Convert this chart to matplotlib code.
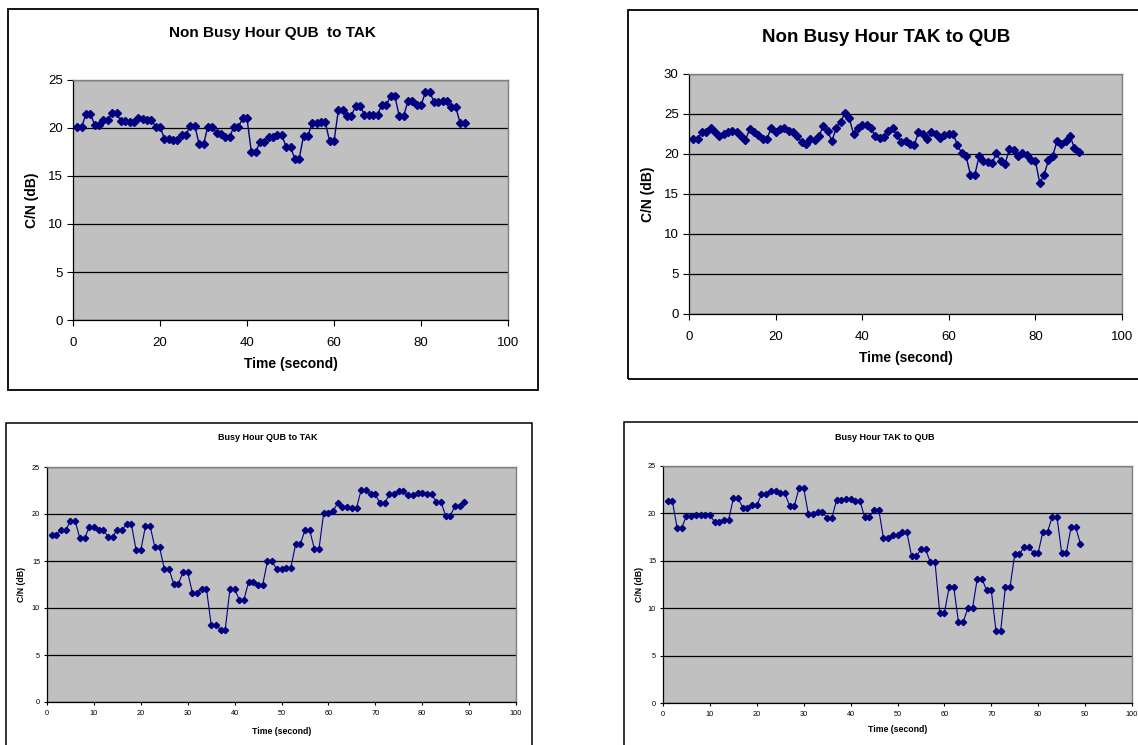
import matplotlib
matplotlib.use('Agg')
import matplotlib.pyplot as plt
from matplotlib.patches import Rectangle

plt.rcParams['font.family'] = ['Liberation Sans', 'DejaVu Sans']

W = 1138.0
H = 745.0

# ---- data ----
t_nb_qt = list(range(1, 91))
cn_nb_qt = [20.1, 20.1, 21.5, 21.5, 20.3, 20.3, 20.8, 20.8, 21.6, 21.6,
            20.7, 20.7, 20.6, 20.6, 21.0, 20.95, 20.85, 20.85, 20.15, 20.15,
            18.9, 18.9, 18.8, 18.8, 19.3, 19.3, 20.25, 20.25, 18.3, 18.3,
            20.15, 20.15, 19.5, 19.4, 19.1, 19.1, 20.1, 20.1, 21.0, 21.0,
            17.5, 17.5, 18.55, 18.55, 19.1, 19.1, 19.3, 19.3, 18.0, 18.0,
            16.8, 16.8, 19.2, 19.2, 20.5, 20.5, 20.6, 20.6, 18.6, 18.6,
            21.85, 21.85, 21.3, 21.3, 22.3, 22.3, 21.4, 21.4, 21.4, 21.4,
            22.4, 22.4, 23.3, 23.3, 21.25, 21.25, 22.8, 22.8, 22.35, 22.35,
            23.7, 23.7, 22.75, 22.75, 22.85, 22.85, 22.15, 22.15, 20.5, 20.5]

t_nb_tq = list(range(1, 91))
cn_nb_tq = [21.9, 21.9, 22.76, 22.8, 23.3, 22.8, 22.2, 22.5, 22.7, 22.9,
            22.8, 22.2, 21.7, 23.1, 22.8, 22.35, 21.9, 21.9, 23.3, 22.8,
            23.1, 23.3, 22.9, 22.8, 22.2, 21.5, 21.3, 21.9, 21.7, 22.2,
            23.5, 22.9, 21.6, 23.3, 24.0, 25.1, 24.5, 22.5, 23.3, 23.6,
            23.6, 23.2, 22.2, 22.0, 22.1, 22.9, 23.2, 22.4, 21.5, 21.6,
            21.3, 21.1, 22.7, 22.55, 21.9, 22.8, 22.55, 22.0, 22.4, 22.55,
            22.55, 21.1, 20.1, 19.7, 17.4, 17.4, 19.7, 19.1, 19.0, 18.9,
            20.1, 19.1, 18.8, 20.6, 20.5, 19.7, 20.1, 19.85, 19.3, 19.1,
            16.4, 17.4, 19.2, 19.8, 21.6, 21.2, 21.6, 22.3, 20.7, 20.3]

t_b_qt = list(range(1, 90))
cn_b_qt = [17.76, 17.76, 18.25, 18.25, 19.3, 19.3, 17.4, 17.4, 18.6, 18.6,
           18.3, 18.3, 17.6, 17.6, 18.35, 18.35, 18.9, 18.9, 16.15, 16.15,
           18.7, 18.7, 16.45, 16.45, 14.2, 14.2, 12.57, 12.57, 13.8, 13.8,
           11.6, 11.6, 12.07, 12.07, 8.2, 8.2, 7.7, 7.7, 12.0, 12.0,
           10.9, 10.9, 12.8, 12.8, 12.5, 12.5, 14.95, 14.95, 14.1, 14.1,
           14.28, 14.28, 16.76, 16.76, 18.3, 18.3, 16.3, 16.3, 20.13, 20.13,
           20.3, 21.2, 20.7, 20.7, 20.65, 20.65, 22.6, 22.6, 22.1, 22.1,
           21.13, 21.13, 22.1, 22.1, 22.4, 22.4, 22.0, 22.0, 22.2, 22.2,
           22.1, 22.1, 21.3, 21.3, 19.8, 19.8, 20.9, 20.9, 21.3]

t_b_tq = list(range(1, 90))
cn_b_tq = [21.3, 21.3, 18.5, 18.5, 19.75, 19.75, 19.86, 19.86, 19.8, 19.8,
           19.1, 19.1, 19.3, 19.3, 21.6, 21.6, 20.6, 20.6, 20.84, 20.84,
           22.0, 22.0, 22.4, 22.4, 22.1, 22.1, 20.8, 20.8, 22.66, 22.66,
           19.9, 19.9, 20.14, 20.14, 19.5, 19.5, 21.4, 21.4, 21.47, 21.47,
           21.3, 21.3, 19.6, 19.6, 20.4, 20.4, 17.4, 17.4, 17.76, 17.76,
           18.0, 18.0, 15.5, 15.5, 16.2, 16.2, 14.86, 14.86, 9.5, 9.5,
           12.2, 12.2, 8.53, 8.53, 10.0, 10.0, 13.1, 13.1, 11.9, 11.9,
           7.6, 7.6, 12.24, 12.24, 15.7, 15.7, 16.47, 16.47, 15.84, 15.84,
           18.08, 18.08, 19.65, 19.65, 15.84, 15.84, 18.53, 18.53, 16.8]

titles = ['Non Busy Hour QUB  to TAK', 'Non Busy Hour TAK to QUB',
          'Busy Hour QUB to TAK', 'Busy Hour TAK to QUB']
xlab = 'Time (second)'
ylab = 'C/N (dB)'


def fx(x):
    return x / W


def fy(y):
    return 1 - y / H


fig = plt.figure(figsize=(W / 100, H / 100), dpi=100)

# one dict per panel: plot box, frame box, text spots (all in pixels)
panels = [
    dict(t=t_nb_qt, y=cn_nb_qt, plot=(73, 80, 508, 320), frame=(8, 9, 538, 390),
         ymax=25, xstep=20, title_y=33, title_x=272, title_fs=11, xl_y=364, yl_x=32,
         lab_fs=10, tick_fs=9.5, ms=4.5, lw=1.0, tlen=4, xpad=8, ypad=3.5, flw=1.3),
    dict(t=t_nb_tq, y=cn_nb_tq, plot=(689, 74, 1122, 314), frame=(628, 10, 1146, 379),
         ymax=30, xstep=20, title_y=37, title_x=886, title_fs=13.5, xl_y=358, yl_x=648,
         lab_fs=10, tick_fs=9.5, ms=4.5, lw=1.0, tlen=4, xpad=8, ypad=3.5, flw=1.3),
    dict(t=t_b_qt, y=cn_b_qt, plot=(47, 467, 516, 702), frame=(6, 423, 532, 750),
         ymax=25, xstep=10, title_y=437, title_x=268, title_fs=6.5, xl_y=731, yl_x=22,
         lab_fs=6.3, tick_fs=5.3, ms=3.2, lw=0.8, tlen=2.5, xpad=3.5, ypad=2.5, flw=1.1),
    dict(t=t_b_tq, y=cn_b_tq, plot=(663, 466, 1132, 703), frame=(624, 422, 1146, 750),
         ymax=25, xstep=10, title_y=437, title_x=885, title_fs=6.5, xl_y=730, yl_x=639,
         lab_fs=6.3, tick_fs=5.3, ms=3.2, lw=0.8, tlen=2.5, xpad=3.5, ypad=2.5, flw=1.1),
]

for p, title in zip(panels, titles):
    x0, y0, x1, y1 = p['plot']
    ax = fig.add_axes([fx(x0), fy(y1), (x1 - x0) / W, (y1 - y0) / H])
    ax.set_facecolor('#C0C0C0')
    ax.plot(p['t'], p['y'], color='#000080', lw=p['lw'], marker='D',
            markersize=p['ms'], markerfacecolor='#000080', markeredgecolor='#000080')
    ax.set_xlim(0, 100)
    ax.set_ylim(0, p['ymax'])
    ax.set_xticks(range(0, 101, p['xstep']))
    ax.set_yticks(range(0, p['ymax'] + 1, 5))
    ax.yaxis.grid(True, color='black', lw=0.9)
    ax.set_axisbelow(True)
    for s in ['top', 'right']:
        ax.spines[s].set_color('#808080')
        ax.spines[s].set_linewidth(1.0)
    for s in ['left', 'bottom']:
        ax.spines[s].set_color('black')
        ax.spines[s].set_linewidth(0.9)
    ax.tick_params(axis='both', direction='out', length=p['tlen'], width=0.8,
                   labelsize=p['tick_fs'], colors='black')
    ax.tick_params(axis='x', pad=p['xpad'])
    ax.tick_params(axis='y', pad=p['ypad'])

    fig.text(fx(p['title_x']), fy(p['title_y']), title, ha='center', va='center',
             fontsize=p['title_fs'], fontweight='bold')
    fig.text(fx((x0 + x1) / 2), fy(p['xl_y']), xlab, ha='center', va='center',
             fontsize=p['lab_fs'], fontweight='bold')
    fig.text(fx(p['yl_x']), fy((y0 + y1) / 2), ylab, ha='center', va='center',
             rotation=90, fontsize=p['lab_fs'], fontweight='bold')

    fx0, fy0, fx1, fy1 = p['frame']
    fig.patches.append(Rectangle((fx(fx0), fy(fy1)), (fx1 - fx0) / W, (fy1 - fy0) / H,
                                 transform=fig.transFigure, fill=False,
                                 edgecolor='black', lw=p['flw']))

fig.savefig('out.png', dpi=100)
